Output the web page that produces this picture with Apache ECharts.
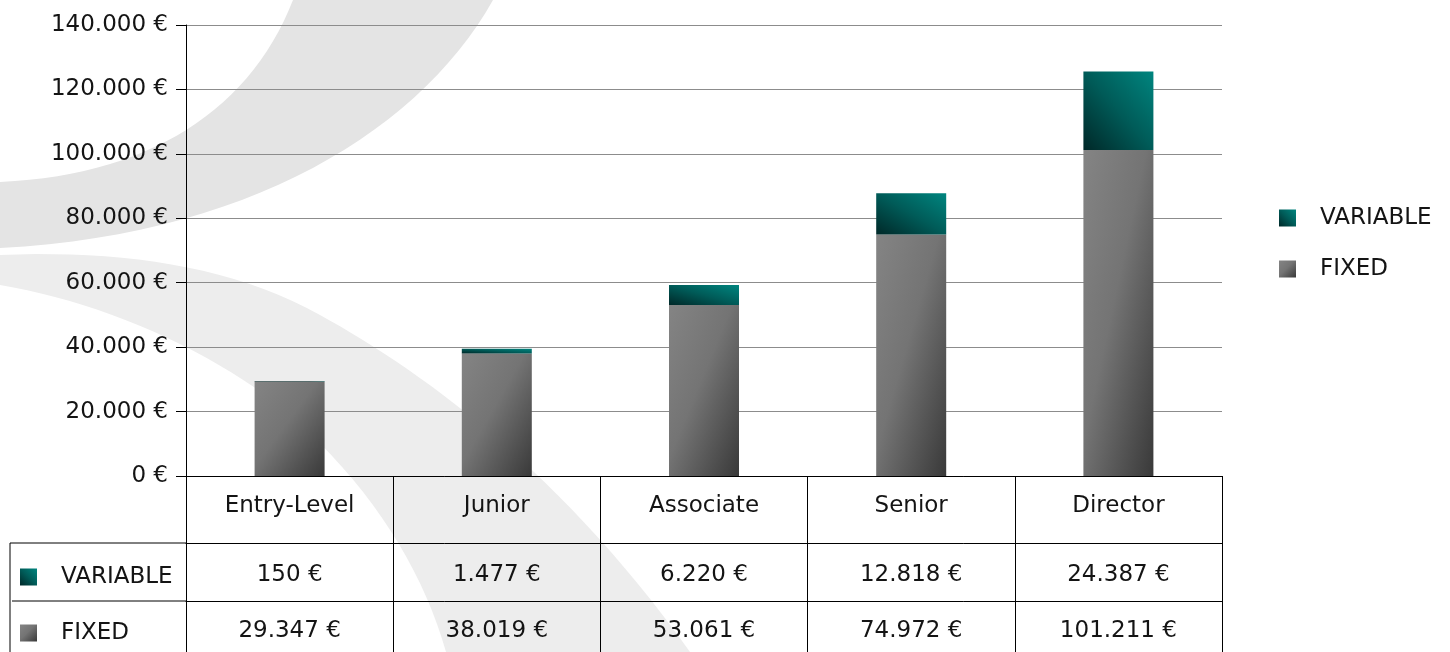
<!DOCTYPE html>
<html>
<head>
<meta charset="utf-8">
<script src="https://cdn.jsdelivr.net/npm/echarts@6/dist/echarts.min.js"></script>
<style>
  html, body { margin: 0; padding: 0; background: #fff; }
  #chart { width: 1450px; height: 652px; }
</style>
</head>
<body>
<div id="chart"></div>
<script>
// data
var categories = ["Entry-Level", "Junior", "Associate", "Senior", "Director"];
var variableValues = [150, 1477, 6220, 12818, 24387];
var fixedValues = [29347, 38019, 53061, 74972, 101211];
var yMin = 0;
var yMax = 140000;
var yStep = 20000;

// layout
var W = 1450, H = 652;
var gridLeft = 186, gridRight = 228, gridTop = 25, gridBottom = 176;
var barW = 70;
var pxPerUnit = (H - gridTop - gridBottom) / (yMax - yMin);
var font = "DejaVu Sans";
var textColor = "#141414";

function euro(v) {
  return String(v).replace(/\B(?=(\d{3})+(?!\d))/g, ".") + " €";
}

var grayStops = [
  { offset: 0, color: "#848484" },
  { offset: 0.45, color: "#747474" },
  { offset: 1, color: "#393939" },
];
var tealStops = [
  { offset: 0, color: "#00857f" },
  { offset: 0.5, color: "#005b58" },
  { offset: 1, color: "#002828" },
];

// diagonal gradient whose iso-lines follow the box diagonal
function boxGradient(w, h, stops, fromRight) {
  h = Math.max(h, 1);
  var t = (2 * w * h) / (w * w + h * h);
  if (fromRight) {
    return new echarts.graphic.LinearGradient(1, 0, 1 - (t * h) / w, (t * w) / h, stops);
  }
  return new echarts.graphic.LinearGradient(0, 0, (t * h) / w, (t * w) / h, stops);
}

// bezier helper for the background watermark
function cubic(p0, p1, p2, p3, n) {
  var pts = [];
  for (var i = 0; i <= n; i++) {
    var t = i / n, u = 1 - t;
    pts.push([
      u * u * u * p0[0] + 3 * u * u * t * p1[0] + 3 * u * t * t * p2[0] + t * t * t * p3[0],
      u * u * u * p0[1] + 3 * u * u * t * p1[1] + 3 * u * t * t * p2[1] + t * t * t * p3[1],
    ]);
  }
  return pts;
}
var bandA = cubic([293, 0], [250, 110], [150, 175], [0, 182], 30)
  .concat(cubic([0, 248], [250, 235], [420, 130], [493, 0], 30));
var bandB = cubic([0, 255], [120, 250], [230, 265], [320, 315], 20)
  .concat(cubic([320, 315], [420, 370], [560, 470], [690, 652], 30))
  .concat(cubic([446, 652], [420, 560], [360, 470], [268, 397], 20))
  .concat(cubic([268, 397], [190, 340], [90, 300], [0, 285], 20));

var chart = echarts.init(document.getElementById("chart"));

var labelStyle = {
  fontFamily: font,
  fontSize: 23,
  lineHeight: 26,
  color: textColor,
};

var tableTop = H - gridBottom;
var row1 = tableTop + 67;
var row2 = tableTop + 125;

function legendItems() {
  return [
    { name: "VARIABLE", itemStyle: { color: new echarts.graphic.LinearGradient(1, 0, 0, 1, tealStops) } },
    { name: "FIXED", itemStyle: { color: new echarts.graphic.LinearGradient(0, 0, 1, 1, grayStops) } },
  ];
}

chart.setOption({
  backgroundColor: "#fff",
  animation: false,
  graphic: [
    { type: "polygon", z: -10, silent: true, shape: { points: bandA }, style: { fill: "#e4e4e4" } },
    { type: "polygon", z: -10, silent: true, shape: { points: bandB }, style: { fill: "#ededed" } },
    // left part of the data table
    { type: "line", z: 5, shape: { x1: 10, y1: row1, x2: gridLeft, y2: row1 }, style: { stroke: "#000", lineWidth: 1 } },
    { type: "line", z: 5, shape: { x1: 12, y1: row2, x2: gridLeft, y2: row2 }, style: { stroke: "#000", lineWidth: 1 } },
    { type: "line", z: 5, shape: { x1: 10, y1: row1, x2: 10, y2: H }, style: { stroke: "#000", lineWidth: 1 } },
  ],
  legend: [
    {
      orient: "vertical",
      left: 1279,
      top: 205,
      padding: 0,
      itemWidth: 17,
      itemHeight: 17,
      itemGap: 25,
      selectedMode: false,
      icon: "rect",
      textStyle: Object.assign({ padding: [0, 0, 0, 19] }, labelStyle),
      data: legendItems(),
    },
    {
      // row labels of the data table
      orient: "vertical",
      left: 20,
      top: 564,
      padding: 0,
      itemWidth: 17,
      itemHeight: 17,
      itemGap: 30,
      selectedMode: false,
      icon: "rect",
      textStyle: Object.assign({ padding: [0, 0, 0, 19] }, labelStyle),
      data: legendItems(),
    },
  ],
  grid: {
    left: gridLeft,
    right: gridRight,
    top: gridTop,
    bottom: gridBottom,
    containLabel: false,
  },
  xAxis: [
    {
      type: "category",
      data: categories,
      position: "bottom",
      axisLine: { show: true, lineStyle: { color: "#000", width: 1 } },
      axisTick: { show: true, length: gridBottom, lineStyle: { color: "#000", width: 1 } },
      axisLabel: Object.assign({ margin: 17, interval: 0 }, labelStyle),
      splitLine: { show: false },
      z: 5,
    },
    {
      type: "category",
      data: variableValues.map(euro),
      position: "bottom",
      offset: 67,
      axisLine: { show: true, lineStyle: { color: "#000", width: 1 } },
      axisTick: { show: false },
      axisLabel: Object.assign({ margin: 19, interval: 0 }, labelStyle),
      splitLine: { show: false },
    },
    {
      type: "category",
      data: fixedValues.map(euro),
      position: "bottom",
      offset: 125,
      axisLine: { show: true, lineStyle: { color: "#000", width: 1 } },
      axisTick: { show: false },
      axisLabel: Object.assign({ margin: 17, interval: 0 }, labelStyle),
      splitLine: { show: false },
    },
  ],
  yAxis: {
    type: "value",
    min: yMin,
    max: yMax,
    interval: yStep,
    axisLine: { show: true, lineStyle: { color: "#000", width: 1 } },
    axisTick: { show: true, length: 10, lineStyle: { color: "#000" } },
    axisLabel: Object.assign({ margin: 18, formatter: euro }, labelStyle),
    splitLine: { show: true, lineStyle: { color: "#8c8c8c", width: 1 } },
  },
  series: [
    {
      name: "FIXED",
      type: "bar",
      stack: "total",
      barWidth: barW,
      xAxisIndex: 0,
      data: fixedValues,
      itemStyle: {
        color: function (params) {
          return boxGradient(barW, params.value * pxPerUnit, grayStops, false);
        },
      },
    },
    {
      name: "VARIABLE",
      type: "bar",
      stack: "total",
      barWidth: barW,
      xAxisIndex: 0,
      data: variableValues,
      itemStyle: {
        color: function (params) {
          return boxGradient(barW, params.value * pxPerUnit, tealStops, true);
        },
      },
    },
  ],
});
</script>
</body>
</html>
